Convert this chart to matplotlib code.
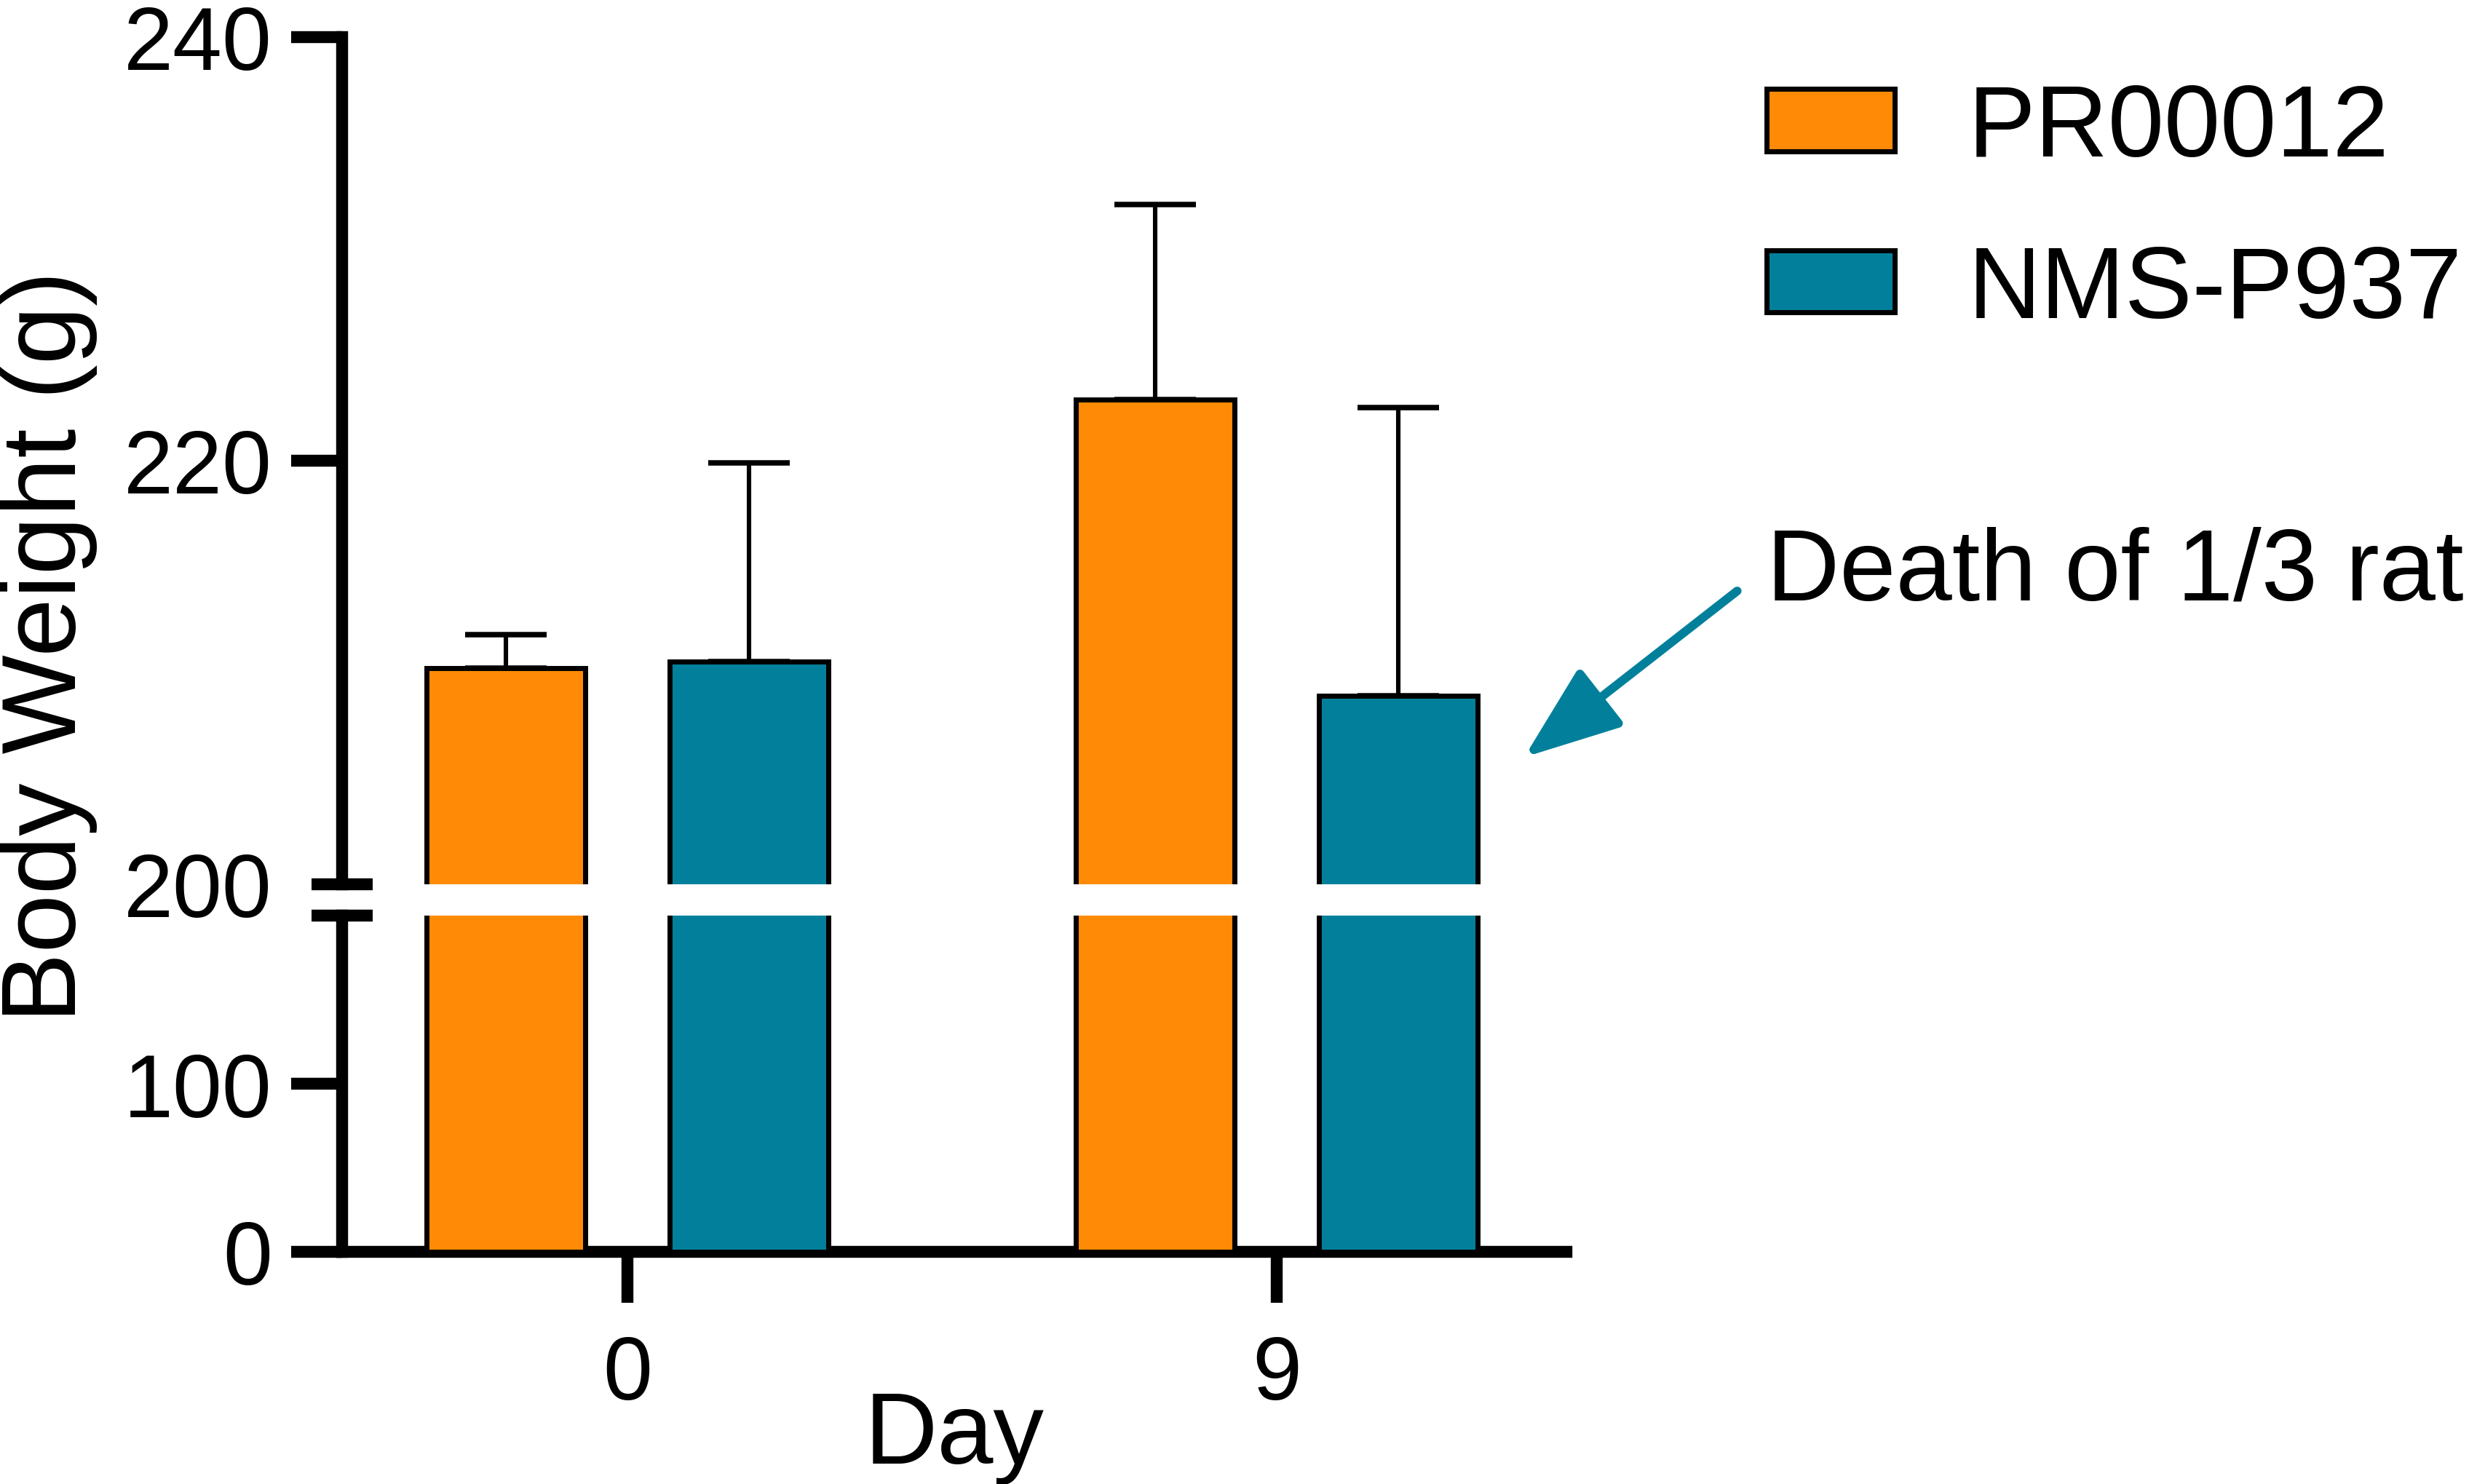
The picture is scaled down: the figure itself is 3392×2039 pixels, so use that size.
import numpy as np
import matplotlib
matplotlib.use("Agg")
import matplotlib.pyplot as plt

plt.rcParams['font.family'] = ['Liberation Sans', 'DejaVu Sans']

# ---- data ----
days = ['0', '9']
groups = ['PR00012', 'NMS-P937']
pr_mean = [210.2, 222.9]
pr_err = [1.6, 9.2]
nms_mean = [210.5, 208.9]
nms_err = [9.4, 13.6]
annotation = 'Death of 1/3 rat'

orange = '#FF8A06'
teal = '#02809B'

W_PX, H_PX, DPI = 3392, 2040, 200
fig = plt.figure(figsize=(W_PX / DPI, H_PX / DPI), dpi=DPI)

left = 470 / W_PX
right = 2152 / W_PX
ax_top = fig.add_axes([left, 1 - 1216 / H_PX, right - left, (1216 - 52) / H_PX])
ax_bot = fig.add_axes([left, 1 - 1721 / H_PX, right - left, (1721 - 1259) / H_PX])

x = np.arange(len(days))
off = 0.187
bw = 0.244
edge_lw = 2.5
spine_lw = 5.9

for ax in (ax_top, ax_bot):
    ax.bar(x - off, pr_mean, bw, color=orange, edgecolor='black', linewidth=edge_lw,
           label=groups[0], zorder=3)
    ax.bar(x + off, nms_mean, bw, color=teal, edgecolor='black', linewidth=edge_lw,
           label=groups[1], zorder=3)
    ax.errorbar(x - off, pr_mean, yerr=[np.zeros(len(pr_err)), pr_err], fmt='none',
                ecolor='black', elinewidth=2.2, capsize=20, capthick=2.7, zorder=2)
    ax.errorbar(x + off, nms_mean, yerr=[np.zeros(len(nms_err)), nms_err], fmt='none',
                ecolor='black', elinewidth=2.2, capsize=20, capthick=2.7, zorder=2)
    ax.set_xlim(-0.4395, 1.446)
    for s in ('top', 'right'):
        ax.spines[s].set_visible(False)
    for s in ('left', 'bottom'):
        ax.spines[s].set_linewidth(spine_lw)

ax_top.set_ylim(200, 240)
ax_bot.set_ylim(0, 200)

# top axis: only left spine
ax_top.spines['bottom'].set_visible(False)
ax_top.tick_params(axis='x', which='both', bottom=False, labelbottom=False)
ax_top.set_yticks([220, 240])
ax_top.set_yticks([200], labels=['200'], minor=True)
ax_top.tick_params(axis='y', which='major', direction='out', length=25.2, width=spine_lw,
                   pad=9.4, labelsize=44)
ax_top.tick_params(axis='y', which='minor', direction='inout', length=29.9, width=spine_lw,
                   pad=19.6, labelsize=44)

ax_bot.set_yticks([0, 100])
ax_bot.set_yticks([200], labels=[''], minor=True)
ax_bot.tick_params(axis='y', which='major', direction='out', length=25.2, width=spine_lw,
                   pad=9.4, labelsize=44)
ax_bot.tick_params(axis='y', which='minor', direction='inout', length=29.9, width=spine_lw)
ax_bot.set_xticks(x, labels=days)
ax_bot.tick_params(axis='x', which='major', direction='out', length=25.2, width=spine_lw,
                   pad=15.5, labelsize=44)
ax_bot.tick_params(axis='x', which='minor', bottom=False)

ax_bot.set_xlabel('Day', fontsize=50)
ax_bot.xaxis.set_label_coords(0.5, -0.409)
ax_top.set_ylabel('Body Weight (g)', fontsize=52)
ax_top.yaxis.set_label_coords(-0.1998, 0.2818)

leg = ax_top.legend(loc='upper left', bbox_to_anchor=(2427 / W_PX, 1 - 114 / H_PX),
                    bbox_transform=fig.transFigure, frameon=False, fontsize=50,
                    handlelength=1.27, handleheight=0.57, handletextpad=0.72,
                    labelspacing=0.66, borderpad=0, borderaxespad=0)

ax_top.annotate('', xy=(1.381, 206.0), xytext=(1.709, 213.85),
                arrowprops=dict(arrowstyle='-|>,head_length=4.1,head_width=1.55',
                                mutation_scale=10, color=teal, lw=4.3,
                                shrinkA=0, shrinkB=0),
                annotation_clip=False)
ax_top.text(1.7545, 213.47, annotation, fontsize=50, ha='left', va='baseline',
            clip_on=False)

fig.savefig('out.png', dpi=DPI)
